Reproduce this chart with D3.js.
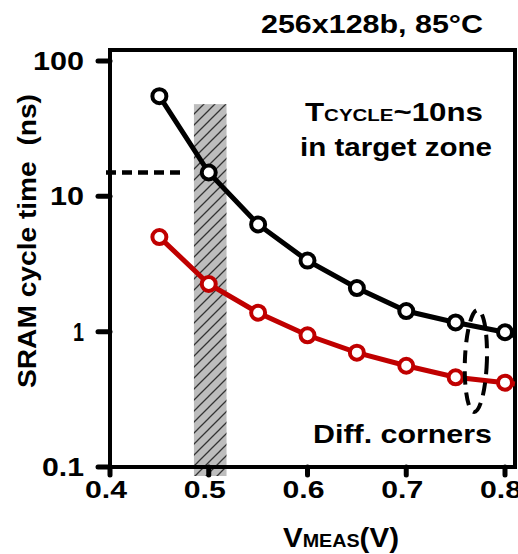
<!DOCTYPE html>
<html>
<head>
<meta charset="utf-8">
<script src="https://cdn.jsdelivr.net/npm/d3@7"></script>
<style>
  body { margin: 0; background: #fff; }
  text { font-family: Arial, "Liberation Sans", sans-serif; font-weight: bold; fill: #000; }
</style>
</head>
<body>
<script>
// data
const vmeas = [0.45, 0.5, 0.55, 0.6, 0.65, 0.7, 0.75, 0.8];
const tCycleSlow = [55, 15, 6.2, 3.35, 2.1, 1.42, 1.17, 0.99];
const tCycleFast = [5.0, 2.25, 1.38, 0.94, 0.7, 0.56, 0.46, 0.42];
// where the lines run out at the right frame edge (no marker)
const tailV = 0.81;
const tailSlow = 0.93;
const tailFast = 0.41;
const xTicks = [0.4, 0.5, 0.6, 0.7, 0.8];
const yTicks = [0.1, 1, 10, 100];
const targetZone = [0.485, 0.518];
const targetTop = 48;
const targetRef = 15;

const width = 518;
const height = 554;

const x = d3.scaleLinear().domain([0.4, 0.8]).range([110, 505]);
const y = d3.scaleLog().domain([0.1, 100]).range([467, 61]);
const frame = { left: 110, right: 515, top: 50, bottom: 467 };

const svg = d3.select('body').append('svg')
    .attr('width', width)
    .attr('height', height);

// the source uses a wide bold face, so stretch text to the measured widths
function fit(sel, w) {
    sel.attr('textLength', w).attr('lengthAdjust', 'spacingAndGlyphs');
    return sel;
}

const defs = svg.append('defs');
const pat = defs.append('pattern')
    .attr('id', 'hatch')
    .attr('patternUnits', 'userSpaceOnUse')
    .attr('width', 11)
    .attr('height', 11);
pat.append('rect').attr('width', 11).attr('height', 11).attr('fill', '#bdbdbd');
pat.append('path')
    .attr('d', 'M-1,12 L12,-1 M-3,3 L3,-3 M8,14 L14,8')
    .attr('stroke', '#333')
    .attr('stroke-width', 1.3);

// hatched target zone
svg.append('rect')
    .attr('x', x(targetZone[0]))
    .attr('y', y(targetTop))
    .attr('width', x(targetZone[1]) - x(targetZone[0]))
    .attr('height', frame.bottom + 9 - y(targetTop))
    .attr('fill', 'url(#hatch)');

// frame
svg.append('rect')
    .attr('x', frame.left)
    .attr('y', frame.top)
    .attr('width', frame.right - frame.left)
    .attr('height', frame.bottom - frame.top)
    .attr('fill', 'none')
    .attr('stroke', '#000')
    .attr('stroke-width', 4);

// y ticks + labels
svg.append('g').selectAll('line')
    .data(yTicks)
    .join('line')
    .attr('x1', frame.left - 12).attr('x2', frame.left)
    .attr('y1', d => y(d)).attr('y2', d => y(d))
    .attr('stroke', '#000').attr('stroke-width', 5).attr('stroke-linecap', 'round');
const yTickW = { '0.1': 42, '1': 11, '10': 34, '100': 51 };
svg.append('g').selectAll('text')
    .data(yTicks)
    .join('text')
    .attr('x', 84)
    .attr('y', d => y(d) + 9)
    .attr('text-anchor', 'end')
    .attr('font-size', 25)
    .each(function(d) { fit(d3.select(this), yTickW[String(d)]); })
    .text(d => d);

// x ticks + labels
svg.append('g').selectAll('line')
    .data(xTicks)
    .join('line')
    .attr('x1', d => x(d)).attr('x2', d => x(d))
    .attr('y1', frame.bottom).attr('y2', frame.bottom + 8)
    .attr('stroke', '#000').attr('stroke-width', 5).attr('stroke-linecap', 'round');
svg.append('g').selectAll('text')
    .data(xTicks)
    .join('text')
    .attr('x', d => x(d) - 4)
    .attr('y', 498)
    .attr('text-anchor', 'middle')
    .attr('font-size', 23)
    .call(fit, 42)
    .text(d => d.toFixed(1));

// dashed reference at target zone
svg.append('line')
    .attr('x1', frame.left - 4).attr('x2', x(targetZone[0]) - 10)
    .attr('y1', y(targetRef)).attr('y2', y(targetRef))
    .attr('stroke', '#000').attr('stroke-width', 4.5)
    .attr('stroke-dasharray', '10,6');

// series
const series = [
    { color: '#000', values: tCycleSlow, tail: tailSlow },
    { color: '#c00000', values: tCycleFast, tail: tailFast }
];
const line = d3.line().x(d => x(d[0])).y(d => y(d[1]));

series.forEach(s => {
    const pts = vmeas.map((v, i) => [v, s.values[i]]);
    svg.append('path')
        .datum(pts.concat([[tailV, s.tail]]))
        .attr('d', line)
        .attr('fill', 'none')
        .attr('stroke', s.color)
        .attr('stroke-width', 5);
    svg.append('g').selectAll('circle')
        .data(pts)
        .join('circle')
        .attr('cx', d => x(d[0]))
        .attr('cy', d => y(d[1]))
        .attr('r', 7)
        .attr('fill', '#fff')
        .attr('stroke', s.color)
        .attr('stroke-width', 4);
});

// dashed ellipse round the corners
svg.append('ellipse')
    .attr('cx', x(0.77) + 0.5)
    .attr('cy', 361)
    .attr('rx', 11)
    .attr('ry', 51)
    .attr('transform', `rotate(2 ${x(0.77) + 0.5} 361)`)
    .attr('fill', 'none')
    .attr('stroke', '#000')
    .attr('stroke-width', 4)
    .attr('stroke-dasharray', '13,8');

// texts
svg.append('text')
    .attr('x', 483).attr('y', 33)
    .attr('text-anchor', 'end')
    .attr('font-size', 25)
    .call(fit, 222)
    .text('256x128b, 85°C');

const tc = svg.append('text')
    .attr('x', 305).attr('y', 121)
    .attr('font-size', 26)
    .call(fit, 178);
tc.append('tspan').text('T');
tc.append('tspan').attr('font-size', 17).text('CYCLE');
tc.append('tspan').text('~10ns');

svg.append('text')
    .attr('x', 300).attr('y', 156)
    .attr('font-size', 26)
    .call(fit, 192)
    .text('in target zone');

svg.append('text')
    .attr('x', 313).attr('y', 443)
    .attr('font-size', 26)
    .call(fit, 179)
    .text('Diff. corners');

svg.append('text')
    .attr('transform', 'translate(36,241) rotate(-90)')
    .attr('text-anchor', 'middle')
    .attr('font-size', 25)
    .style('white-space', 'pre')
    .call(fit, 294)
    .text('SRAM cycle time  (ns)');

const xl = svg.append('text')
    .attr('x', 283).attr('y', 547)
    .attr('font-size', 27)
    .call(fit, 116);
xl.append('tspan').text('V');
xl.append('tspan').attr('font-size', 18).text('MEAS');
xl.append('tspan').text('(V)');
</script>
</body>
</html>
